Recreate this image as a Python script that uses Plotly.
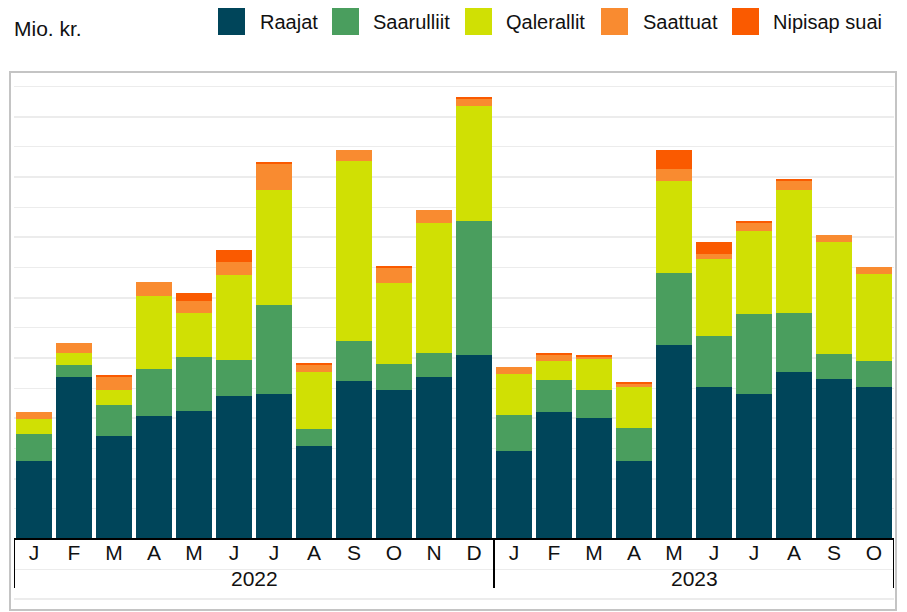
import plotly.graph_objects as go

# ---- data (mio. kr.) ----
periods = ["2022-01", "2022-02", "2022-03", "2022-04", "2022-05", "2022-06",
           "2022-07", "2022-08", "2022-09", "2022-10", "2022-11", "2022-12",
           "2023-01", "2023-02", "2023-03", "2023-04", "2023-05", "2023-06",
           "2023-07", "2023-08", "2023-09", "2023-10"]
month_labels = ["J", "F", "M", "A", "M", "J", "J", "A", "S", "O", "N", "D",
                "J", "F", "M", "A", "M", "J", "J", "A", "S", "O"]
year_labels = ["2022", "2023"]

series_names = ["Raajat", "Saarulliit", "Qalerallit", "Saattuat", "Nipisap suai"]
series_colors = ["#00455a", "#4a9e5e", "#d0e004", "#f98b30", "#fa5a00"]

raajat = [25.9, 53.7, 34.1, 40.8, 42.4, 47.4, 48.1, 30.8, 52.4, 49.4, 53.7, 61.0,
          29.2, 42.1, 40.1, 25.9, 64.3, 50.4, 48.1, 55.4, 53.0, 50.4]
saarulliit = [8.9, 4.0, 10.3, 15.6, 17.9, 11.9, 29.5, 5.6, 13.3, 8.6, 8.0, 44.4,
              11.9, 10.6, 9.3, 10.9, 23.9, 16.9, 26.5, 19.6, 8.3, 8.6]
qalerallit = [5.0, 4.0, 5.0, 24.2, 14.6, 28.2, 38.1, 18.9, 59.7, 26.8, 43.1, 38.1,
              13.6, 6.3, 10.3, 13.6, 30.5, 25.5, 27.5, 40.8, 37.1, 28.8]
saattuat = [2.3, 3.3, 4.6, 4.6, 4.0, 4.3, 8.6, 2.7, 3.6, 5.3, 4.3, 2.3,
            2.3, 2.3, 0.7, 1.3, 4.0, 1.7, 2.7, 3.0, 2.3, 2.3]
nipisap = [0.0, 0.0, 0.3, 0.0, 2.7, 4.0, 0.7, 0.3, 0.0, 0.3, 0.0, 0.7,
           0.0, 0.3, 0.3, 0.3, 6.3, 4.0, 0.3, 0.3, 0.0, 0.0]
series_values = [raajat, saarulliit, qalerallit, saattuat, nipisap]

y_unit_label = "Mio. kr."

# ---- layout geometry (pixels) ----
W, H = 907, 612
L, R, T, B = 14, 13, 72, 2
PW, PH = W - L - R, H - T - B
Y_MIN, Y_MAX = -23.5, 154.8


def px_x(px):
    return (px - L) / PW


def px_y(py):
    return (H - B - py) / PH


fig = go.Figure()
for name, col, vals in zip(series_names, series_colors, series_values):
    fig.add_trace(go.Bar(
        x=periods, y=vals, name=name,
        marker=dict(color=col, line=dict(width=0)),
        showlegend=False,
    ))

zero_pos = (0 - Y_MIN) / (Y_MAX - Y_MIN)

fig.update_layout(
    width=W, height=H,
    margin=dict(l=L, r=R, t=T, b=B, pad=0),
    barmode="stack",
    bargap=0.1,
    plot_bgcolor="white",
    paper_bgcolor="white",
    font=dict(family="Liberation Sans, Arial, sans-serif", size=20, color="#111111"),
    xaxis=dict(
        type="category",
        anchor="free",
        position=zero_pos,
        showline=True, linecolor="black", linewidth=2,
        tickmode="array", tickvals=periods, ticktext=month_labels,
        ticks="",
        ticklabelstandoff=-5,
        tickfont=dict(size=21, color="#111111"),
        showgrid=False,
        range=[-0.5, len(periods) - 0.5],
    ),
    yaxis=dict(
        range=[Y_MIN, Y_MAX],
        dtick=20, tick0=0,
        showgrid=True, gridcolor="#ececec", gridwidth=2,
        minor=dict(dtick=10, tick0=0, showgrid=True, gridcolor="#ececec", gridwidth=1),
        showticklabels=False, ticks="",
        zeroline=False,
        showline=False,
    ),
)

shapes = []
annotations = []

# outer frame
shapes.append(dict(type="rect", xref="paper", yref="paper",
                   x0=px_x(10), x1=px_x(896), y0=px_y(610), y1=px_y(72),
                   line=dict(color="#c4c4c4", width=2), fillcolor="rgba(0,0,0,0)",
                   layer="above"))

# year group dividers and year labels under the month labels
year_of = [p[:4] for p in periods]
bounds = [-0.5]
for i in range(1, len(periods)):
    if year_of[i] != year_of[i - 1]:
        bounds.append(i - 0.5)
bounds.append(len(periods) - 0.5)
for b in bounds:
    shapes.append(dict(type="line", xref="x", yref="paper",
                       x0=b, x1=b, y0=px_y(539), y1=px_y(588),
                       line=dict(color="black", width=2), layer="above"))
for k, yl in enumerate(year_labels):
    annotations.append(dict(text=yl, xref="x", yref="paper",
                            x=(bounds[k] + bounds[k + 1]) / 2, y=px_y(578),
                            xanchor="center", yanchor="middle", showarrow=False,
                            font=dict(size=21, color="#111111")))

# unit label
annotations.append(dict(text=y_unit_label, xref="paper", yref="paper",
                        x=px_x(12), y=px_y(29), xanchor="left", yanchor="middle",
                        showarrow=False, font=dict(size=21, color="#111111")))

# custom legend (large square swatches)
sq_left = [218, 332, 465, 601, 732]
txt_left = [258, 371, 504, 641, 771]
for name, col, sx, tx in zip(series_names, series_colors, sq_left, txt_left):
    shapes.append(dict(type="rect", xref="paper", yref="paper",
                       x0=px_x(sx), x1=px_x(sx + 27), y0=px_y(35), y1=px_y(8),
                       line=dict(width=0), fillcolor=col))
    annotations.append(dict(text=name, xref="paper", yref="paper",
                            x=px_x(tx), y=px_y(22), xanchor="left", yanchor="middle",
                            showarrow=False, font=dict(size=20, color="#111111")))

fig.update_layout(shapes=shapes, annotations=annotations)

fig.write_html("out.html",
               config={"displayModeBar": False},
               post_script="document.body.style.margin='0';document.body.style.overflow='hidden';")
